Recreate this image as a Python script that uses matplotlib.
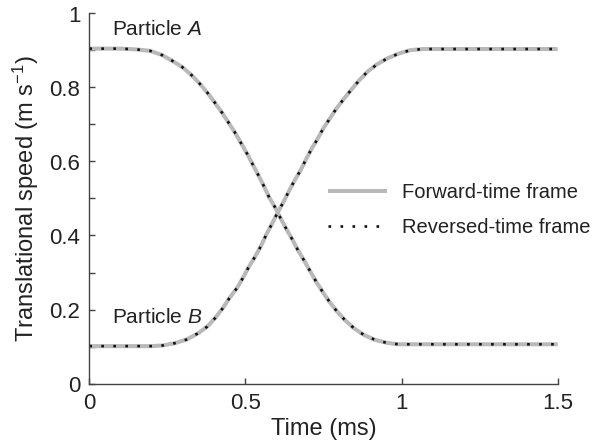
import matplotlib
matplotlib.use("Agg")
import matplotlib.pyplot as plt
from matplotlib.ticker import MultipleLocator

plt.rcParams['font.family'] = ['Liberation Sans', 'DejaVu Sans']
plt.rcParams['mathtext.fontset'] = 'custom'
plt.rcParams['mathtext.rm'] = 'Liberation Sans'
plt.rcParams['mathtext.it'] = 'Liberation Sans:italic'

# Particle A (decelerating)
t_a = [0, 0.10, 0.15, 0.195, 0.232, 0.266, 0.298, 0.328, 0.354, 0.379, 0.402, 0.425,
       0.446, 0.468, 0.487, 0.506, 0.524, 0.542, 0.560, 0.576, 0.595, 0.613, 0.632,
       0.651, 0.669, 0.689, 0.707, 0.726, 0.747, 0.769, 0.792, 0.819, 0.848, 0.880,
       0.915, 0.952, 0.990, 1.5]
v_a = [0.905, 0.905, 0.903, 0.899, 0.888, 0.872, 0.855, 0.833, 0.810, 0.785, 0.759, 0.732,
       0.705, 0.676, 0.648, 0.620, 0.591, 0.562, 0.532, 0.503, 0.476, 0.446, 0.416,
       0.388, 0.359, 0.331, 0.304, 0.276, 0.248, 0.221, 0.196, 0.171, 0.149, 0.131,
       0.118, 0.110, 0.106, 0.106]

# Particle B (accelerating)
t_b = [0, 0.200, 0.237, 0.274, 0.312, 0.349, 0.378, 0.402, 0.427, 0.448, 0.472, 0.491,
       0.510, 0.531, 0.550, 0.566, 0.584, 0.602, 0.620, 0.637, 0.655, 0.675, 0.693,
       0.711, 0.731, 0.749, 0.771, 0.792, 0.816, 0.840, 0.865, 0.891, 0.922, 0.955,
       0.992, 1.029, 1.068, 1.5]
v_b = [0.101, 0.101, 0.103, 0.109, 0.119, 0.136, 0.154, 0.176, 0.203, 0.230, 0.257, 0.284,
       0.314, 0.343, 0.372, 0.401, 0.430, 0.460, 0.488, 0.516, 0.545, 0.574, 0.604,
       0.633, 0.661, 0.689, 0.717, 0.744, 0.770, 0.795, 0.820, 0.843, 0.863, 0.879,
       0.892, 0.901, 0.904, 0.904]

fig = plt.figure(figsize=(6.03, 4.48), dpi=100)
ax = fig.add_axes([89.3/603, 1-383.5/448, (557.7-89.3)/603, (383.5-13.5)/448])

grey = '#b9b9b9'
dots = (0, (1, 3.55))
l1, = ax.plot(t_a, v_a, color=grey, lw=2.9, solid_capstyle='butt', solid_joinstyle='round')
ax.plot(t_b, v_b, color=grey, lw=2.9, solid_capstyle='butt', solid_joinstyle='round')
l2, = ax.plot(t_a, v_a, color='#111111', lw=1.9, linestyle=dots)
ax.plot(t_b, v_b, color='#111111', lw=1.9, linestyle=dots)

ax.set_xlim(0, 1.5)
ax.set_ylim(0, 1)
ax.set_xticks([0, 0.5, 1, 1.5])
ax.set_xticklabels(['0', '0.5', '1', '1.5'])
ax.set_yticks([0, 0.2, 0.4, 0.6, 0.8, 1])
ax.set_yticklabels(['0', '0.2', '0.4', '0.6', '0.8', '1'])
ax.yaxis.set_minor_locator(MultipleLocator(0.1))

for s in ['top', 'right']:
    ax.spines[s].set_visible(False)
for s in ['left', 'bottom']:
    ax.spines[s].set_color('#444444')
    ax.spines[s].set_linewidth(1.0)
ax.tick_params(which='both', direction='in', length=4.5, width=1.0, color='#444444',
               labelsize=16, labelcolor='#222222', pad=6.5)

ax.set_xlabel('Time (ms)', fontsize=17, color='#222222', labelpad=3)
ax.set_ylabel('Translational speed (m s$^{-1}$)', fontsize=17, color='#222222', labelpad=6)

ax.text(0.073, 0.957, 'Particle $\\it{A}$', fontsize=15, color='#222222', va='center', ha='left')
ax.text(0.073, 0.178, 'Particle $\\it{B}$', fontsize=15, color='#222222', va='center', ha='left')

leg = fig.legend([l1, l2], ['Forward-time frame', 'Reversed-time frame'],
                 loc='center left', bbox_to_anchor=(328/603, 1-210/448),
                 frameon=False, fontsize=14.5, handlelength=2.93, handletextpad=0.75,
                 labelspacing=0.82, borderpad=0, borderaxespad=0)
for t in leg.get_texts():
    t.set_color('#222222')

fig.savefig('out.png', dpi=100)
